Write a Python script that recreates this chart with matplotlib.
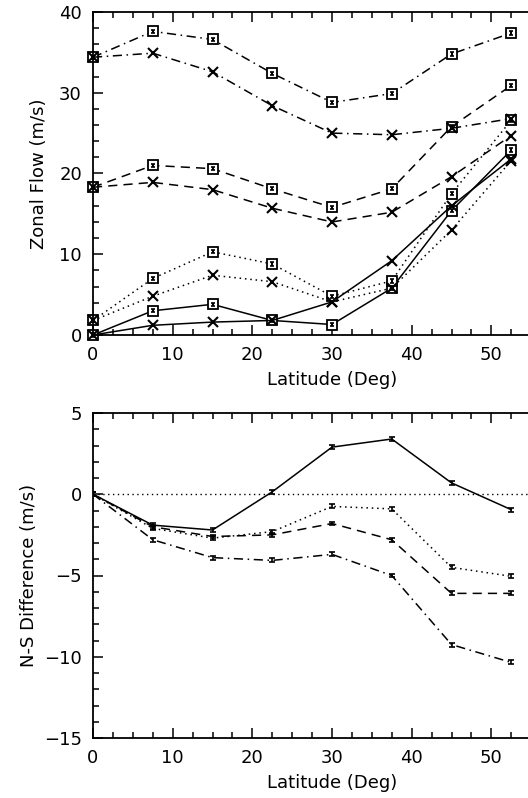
import numpy as np
import matplotlib
matplotlib.use("Agg")
import matplotlib.pyplot as plt
import matplotlib.transforms as mtransforms
from matplotlib.ticker import MultipleLocator, FuncFormatter

# latitude bins (deg)
lat = [0, 7.5, 15, 22.5, 30, 37.5, 45, 52.5]

# top panel: zonal flow (m/s), squares and crosses for each line style
dd_sq = [34.4, 37.6, 36.6, 32.4, 28.8, 29.9, 34.8, 37.4]
dd_x = [34.4, 34.9, 32.6, 28.4, 25.0, 24.8, 25.6, 26.8]
da_sq = [18.3, 21.0, 20.6, 18.1, 15.8, 18.1, 25.8, 30.9]
da_x = [18.3, 18.9, 18.0, 15.7, 14.0, 15.2, 19.6, 24.7]
do_sq = [1.8, 7.0, 10.3, 8.8, 4.8, 6.7, 17.5, 26.6]
do_x = [1.8, 4.8, 7.4, 6.6, 4.1, 5.8, 13.0, 21.6]
so_sq = [0.0, 3.0, 3.8, 1.8, 1.3, 5.8, 15.4, 22.9]
so_x = [0.0, 1.2, 1.6, 1.8, 4.1, 9.2, 16.0, 21.8]

# bottom panel: N-S difference (m/s)
ns_solid = [0.0, -1.9, -2.2, 0.15, 2.9, 3.4, 0.7, -0.95]
ns_dot = [0.0, -2.1, -2.7, -2.3, -0.75, -0.9, -4.5, -5.05]
ns_dash = [0.0, -2.0, -2.6, -2.5, -1.8, -2.8, -6.1, -6.1]
ns_dashdot = [0.0, -2.8, -3.9, -4.07, -3.7, -5.0, -9.25, -10.35]
ns_err = 0.12

styles = {
    'solid': '-',
    'dot': (0, (1, 2.5)),
    'dash': (0, (6, 4)),
    'dashdot': (0, (6, 3, 1, 3)),
}

plt.rcParams['font.family'] = 'DejaVu Sans'
plt.rcParams['font.size'] = 12.5

fig = plt.figure(figsize=(5.28, 7.98), dpi=100)

# axes run past the right edge of the picture, like the cropped original
W, H = 528.0, 798.0
ax1 = fig.add_axes([93 / W, 1 - 335 / H, (571 - 93) / W, (335 - 12) / H])
ax2 = fig.add_axes([93 / W, 1 - 738 / H, (571 - 93) / W, (738 - 413) / H])


def style_axes(ax):
    ax.set_xlim(0, 60)
    ax.xaxis.set_major_locator(MultipleLocator(10))
    ax.xaxis.set_minor_locator(MultipleLocator(2.5))
    # the 60 label falls outside the cropped picture
    ax.xaxis.set_major_formatter(FuncFormatter(lambda v, p: '' if v > 55 else '%d' % v))
    ax.tick_params(which='both', direction='in', top=True, right=True,
                   width=1.1, labelsize=13)
    ax.tick_params(which='major', length=7, pad=8)
    ax.tick_params(which='minor', length=4)
    for s in ax.spines.values():
        s.set_linewidth(1.3)
    ax.set_xlabel('Latitude (Deg)', fontsize=13, labelpad=5)


def shift_end_labels(ax, top_dy, bot_dy):
    labs = [t for t in ax.get_yticklabels()]
    labs[-1].set_transform(labs[-1].get_transform() +
                           mtransforms.ScaledTranslation(0, top_dy / 100, fig.dpi_scale_trans))
    labs[0].set_transform(labs[0].get_transform() +
                          mtransforms.ScaledTranslation(0, bot_dy / 100, fig.dpi_scale_trans))


# ---- top panel ----
lw = 1.1
top_series = [
    (so_sq, 's', 'solid'), (so_x, 'x', 'solid'),
    (do_sq, 's', 'dot'), (do_x, 'x', 'dot'),
    (da_sq, 's', 'dash'), (da_x, 'x', 'dash'),
    (dd_sq, 's', 'dashdot'), (dd_x, 'x', 'dashdot'),
]
for vals, mk, ls in top_series:
    ax1.plot(lat, vals, color='k', lw=lw, linestyle=styles[ls], clip_on=False)
    if mk == 's':
        ax1.plot(lat, vals, linestyle='none', marker='s', ms=6.5, mfc='white',
                 mec='k', mew=1.3, clip_on=False)
        ax1.errorbar(lat, vals, yerr=0.2, fmt='none', ecolor='k',
                     elinewidth=1.5, capsize=1.5, capthick=1.2, clip_on=False)
    else:
        ax1.plot(lat, vals, linestyle='none', marker='x', ms=7, mec='k',
                 mew=1.5, clip_on=False)

style_axes(ax1)
ax1.set_ylim(0, 40)
ax1.yaxis.set_major_locator(MultipleLocator(10))
ax1.yaxis.set_minor_locator(MultipleLocator(2))
ax1.set_ylabel('Zonal Flow (m/s)', fontsize=13, labelpad=8)

# ---- bottom panel ----
ax2.axhline(0, color='k', lw=1.0, linestyle=(0, (1, 2.5)))
for vals, ls in [(ns_solid, 'solid'), (ns_dot, 'dot'), (ns_dash, 'dash'),
                 (ns_dashdot, 'dashdot')]:
    ax2.plot(lat, vals, color='k', lw=lw, linestyle=styles[ls])
    ax2.errorbar(lat, vals, yerr=ns_err, fmt='none', ecolor='k',
                 elinewidth=1.2, capsize=2, capthick=1.2)

style_axes(ax2)
ax2.set_ylim(-15, 5)
ax2.yaxis.set_major_locator(MultipleLocator(5))
ax2.yaxis.set_minor_locator(MultipleLocator(1))
ax2.set_ylabel('N-S Difference (m/s)', fontsize=13, labelpad=4)

fig.canvas.draw()
shift_end_labels(ax1, -6, 5)
shift_end_labels(ax2, -7, 6)

fig.savefig('out.png', dpi=100)
